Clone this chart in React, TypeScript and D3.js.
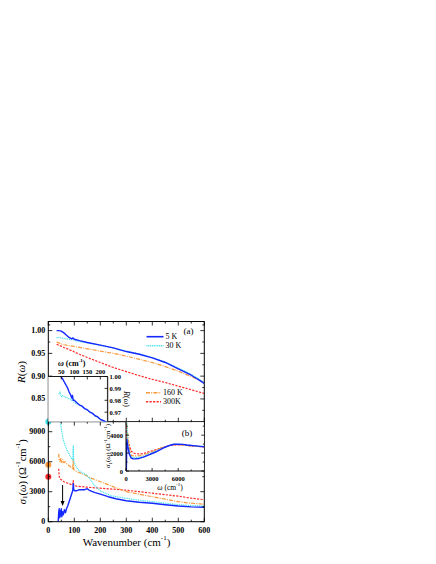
import React, { useEffect, useRef } from 'react';
import * as d3 from 'd3';

// panel (a): reflectivity, main plot
const rFreq = [32, 40, 50, 60, 70, 80, 90, 95, 100, 120, 150, 200, 250, 300, 350, 400, 450, 500, 550, 600];
const r5K = [1.0, 1.0, 0.999, 0.995, 0.99, 0.985, 0.982, 0.984, 0.981, 0.978, 0.974, 0.968, 0.962, 0.954, 0.948, 0.94, 0.93, 0.916, 0.902, 0.884];
const r30K = [0.984, 0.985, 0.984, 0.983, 0.982, 0.981, 0.98, 0.982, 0.978, 0.976, 0.973, 0.968, 0.962, 0.955, 0.949, 0.941, 0.931, 0.918, 0.904, 0.886];
const r160K = [0.975, 0.973, 0.971, 0.969, 0.968, 0.967, 0.966, 0.966, 0.965, 0.963, 0.96, 0.955, 0.95, 0.944, 0.937, 0.93, 0.921, 0.911, 0.899, 0.887];
const r300K = [0.97, 0.968, 0.966, 0.963, 0.961, 0.958, 0.956, 0.955, 0.953, 0.948, 0.941, 0.93, 0.919, 0.91, 0.901, 0.893, 0.886, 0.878, 0.87, 0.862];

// panel (a) inset: low-frequency R
const rInFreq = [40, 45, 50, 55, 60, 65, 70, 75, 80, 85, 90, 93, 96, 100, 110, 120, 130, 140, 150, 160, 170, 180, 190, 200, 210, 220, 228];
const rIn5K = [1.002, 1.001, 0.9995, 0.998, 0.996, 0.994, 0.992, 0.99, 0.987, 0.985, 0.982, 0.984, 0.98, 0.98, 0.978, 0.976, 0.975, 0.973, 0.972, 0.97, 0.969, 0.967, 0.966, 0.964, 0.963, 0.962, 0.961];
const rIn30K = [0.985, 0.987, 0.983, 0.984, 0.983, 0.983, 0.982, 0.982, 0.981, 0.981, 0.98, 0.982, 0.979, 0.978, 0.977, 0.976, 0.975, 0.973, 0.972, 0.97, 0.969, 0.967, 0.966, 0.964, 0.963, 0.962, 0.961];

// panel (b): optical conductivity
const s5Freq = [38, 40, 42, 44, 46, 48, 50, 52, 55, 58, 62, 66, 70, 75, 80, 85, 90, 94, 96, 98, 102, 110, 120, 130, 140, 150, 160, 170, 180, 200, 230, 260, 300, 350, 400, 450, 500, 550, 600];
const s5K = [0, 900, 1300, 400, 1100, 600, 1300, 500, 1000, 700, 1200, 900, 1300, 1600, 2000, 2400, 2800, 3100, 3800, 3200, 3100, 3100, 3200, 3200, 3200, 3300, 3100, 3000, 2900, 2750, 2500, 2300, 2100, 1950, 1840, 1700, 1570, 1480, 1440];
const s30Freq = [45, 48, 52, 56, 60, 65, 70, 75, 80, 85, 90, 94, 96, 98, 105, 115, 130, 145, 160, 175, 200, 240, 300, 350, 400, 450, 500, 550, 600];
const s30K = [10500, 9700, 9000, 8400, 8000, 7600, 7300, 7000, 6800, 6500, 6300, 6200, 7600, 6000, 5600, 5200, 4900, 4700, 4300, 3700, 3100, 2600, 2340, 2150, 2000, 1850, 1700, 1620, 1570];
const s160Freq = [40, 42, 45, 48, 52, 56, 60, 65, 70, 75, 80, 85, 90, 94, 96, 98, 110, 120, 140, 160, 200, 240, 280, 300, 350, 400, 450, 500, 550, 600];
const s160K = [6800, 6200, 6000, 6400, 5900, 6200, 5900, 6000, 5800, 5700, 5600, 5500, 5400, 5300, 6200, 5200, 5000, 4900, 4700, 4400, 4000, 3600, 3200, 3000, 2750, 2500, 2250, 2000, 1850, 1750];
const s300Freq = [40, 42, 45, 50, 55, 60, 70, 80, 90, 94, 96, 98, 110, 130, 150, 200, 250, 300, 350, 400, 450, 500, 550, 600];
const s300K = [5300, 4500, 4300, 4200, 4100, 4000, 3900, 3800, 3700, 3700, 4100, 3600, 3550, 3500, 3450, 3350, 3250, 3150, 3000, 2850, 2700, 2550, 2350, 2200];
// zero-frequency (dc) values
const dcTemps = ['30', '160', '300'];
const dcValues = [10000, 5700, 4500];

// panel (b) inset: wide range
const sInFreq = [40, 100, 200, 400, 600, 800, 1000, 1500, 2000, 2500, 3000, 3500, 4000, 4500, 5000, 5500, 6000, 6500, 7000, 7500, 8000, 8500, 9000];
const sIn5K = [0, 3500, 2750, 1840, 1440, 1370, 1350, 1400, 1550, 1750, 1950, 2150, 2400, 2650, 2850, 2980, 3000, 2970, 2900, 2850, 2800, 2750, 2700];
const sIn30K = [10000, 5800, 3100, 2000, 1570, 1520, 1500, 1530, 1650, 1850, 2050, 2250, 2450, 2680, 2870, 2960, 2990, 2960, 2900, 2850, 2800, 2750, 2700];
const sIn160K = [6800, 5000, 4000, 2500, 1750, 1700, 1680, 1700, 1800, 1950, 2150, 2350, 2550, 2700, 2850, 2920, 2930, 2910, 2860, 2810, 2770, 2730, 2700];
const sIn300K = [5300, 3600, 3350, 2850, 2200, 2050, 1950, 1900, 1950, 2100, 2250, 2400, 2550, 2700, 2850, 2900, 2920, 2900, 2850, 2800, 2770, 2730, 2700];

const temps = ['5', '30', '160', '300'];
const legendA = ['5 K', '30 K'];
const legendB = ['160 K', '300K'];

const look: Record<string, { color: string; dash: string | null; w: number }> = {
  '5': { color: '#1428ff', dash: null, w: 1.4 },
  '30': { color: '#3ee0ea', dash: '1,0.8', w: 1.2 },
  '160': { color: '#f7983a', dash: '4,1.2,1,1.2', w: 1.2 },
  '300': { color: '#ff2b2b', dash: '2.2,1.3', w: 1.2 },
};

const FONT = 'Liberation Serif, Times New Roman, serif';

export default function App() {
  const ref = useRef<SVGSVGElement>(null);

  useEffect(() => {
    const svg = d3.select(ref.current);
    svg.selectAll('*').remove();

    const X0 = 48.3, X1 = 204.3;
    const YA0 = 321.5, YAB = 421.7, YB1 = 521.7;

    const x = d3.scaleLinear().domain([0, 600]).range([X0, X1]);
    const yA = d3.scaleLinear().domain([0.8, 1.02]).range([YAB, YA0]);
    const yB = d3.scaleLinear().domain([0, 10000]).range([YB1, YAB]);
    const xIa = d3.scaleLinear().domain([0, 228]).range([X0, x(228)]);
    const yIa = d3.scaleLinear().domain([0.962, 1.0]).range([YAB, 376.5]);
    const xIb = d3.scaleLinear().domain([0, 9000]).range([126, X1]);
    const yIb = d3.scaleLinear().domain([0, 5500]).range([471, YAB]);

    const defs = svg.append('defs');
    const clip = (id: string, x0: number, y0: number, x1: number, y1: number) =>
      defs.append('clipPath').attr('id', id).append('rect')
        .attr('x', x0).attr('y', y0).attr('width', x1 - x0).attr('height', y1 - y0);
    clip('cA', X0, YA0, X1, YAB);
    clip('cB', X0, YAB, X1, YB1);
    clip('cIa', X0, yIa.range()[1], xIa.range()[1], YAB);
    clip('cIb', 126, YAB, X1, 471);

    const tick = (x1: number, y1: number, x2: number, y2: number, w = 0.8) =>
      svg.append('line').attr('x1', x1).attr('y1', y1).attr('x2', x2).attr('y2', y2)
        .attr('stroke', '#000').attr('stroke-width', w);

    const label = (tx: number, ty: number, txt: string, anchor: string, size = 8, bold = true) =>
      svg.append('text').attr('x', tx).attr('y', ty).attr('text-anchor', anchor)
        .attr('dominant-baseline', 'central').attr('font-family', FONT)
        .attr('font-size', size).attr('font-weight', bold ? 'bold' : 'normal').text(txt);

    const curve = (clipId: string, sx: any, sy: any, xs: number[], ys: number[], t: string) => {
      const line = d3.line<number>().x((_, i) => sx(xs[i])).y((d) => sy(d));
      const s = look[t];
      svg.append('path').attr('clip-path', `url(#${clipId})`)
        .attr('d', line(ys)).attr('fill', 'none').attr('stroke', s.color)
        .attr('stroke-width', s.w).attr('stroke-dasharray', s.dash)
        .attr('stroke-linejoin', 'round');
    };

    // main curves, panel (a)
    const rAll = [r5K, r30K, r160K, r300K];
    [3, 2, 1, 0].forEach((i) => curve('cA', x, yA, rFreq, rAll[i], temps[i]));

    // main curves, panel (b)
    const sF = [s5Freq, s30Freq, s160Freq, s300Freq];
    const sV = [s5K, s30K, s160K, s300K];
    [3, 2, 1, 0].forEach((i) => curve('cB', x, yB, sF[i], sV[i], temps[i]));

    // dc points
    dcValues.forEach((v, i) => {
      svg.append('circle').attr('cx', x(0)).attr('cy', yB(v)).attr('r', 3)
        .attr('fill', look[dcTemps[i]].color);
    });

    // frames
    svg.append('rect').attr('x', X0).attr('y', YA0).attr('width', X1 - X0).attr('height', YB1 - YA0)
      .attr('fill', 'none').attr('stroke', '#000').attr('stroke-width', 1);
    tick(X0, YAB, X1, YAB, 1);

    // x ticks on every horizontal edge
    const xMaj = d3.range(0, 601, 100);
    const xMin = d3.range(50, 600, 100);
    [[YA0, 1], [YAB, -1], [YAB, 1], [YB1, -1]].forEach(([yy, d]) => {
      xMaj.forEach((v) => tick(x(v), yy, x(v), yy + d * 4));
      xMin.forEach((v) => tick(x(v), yy, x(v), yy + d * 2));
    });
    xMaj.forEach((v) => label(x(v), 530.5, String(v), 'middle'));

    // y ticks panel (a)
    const aMaj = [0.85, 0.9, 0.95, 1.0];
    const aMin = [0.825, 0.875, 0.925, 0.975, 1.0125];
    aMaj.forEach((v) => {
      tick(X0, yA(v), X0 + 4, yA(v));
      tick(X1, yA(v), X1 - 4, yA(v));
      label(X0 - 3, yA(v), v.toFixed(2), 'end');
    });
    aMin.forEach((v) => {
      tick(X1, yA(v), X1 - 2, yA(v));
      if (v > 0.95) tick(X0, yA(v), X0 + 2, yA(v));
    });

    // y ticks panel (b)
    const bMaj = [0, 3000, 6000, 9000];
    const bMin = [1500, 4500, 7500];
    bMaj.forEach((v) => {
      tick(X0, yB(v), X0 + 4, yB(v));
      tick(X1, yB(v), X1 - 4, yB(v));
      label(X0 - 3, yB(v), String(v), 'end');
    });
    bMin.forEach((v) => {
      tick(X0, yB(v), X0 + 2, yB(v));
      tick(X1, yB(v), X1 - 2, yB(v));
    });

    // inset (a)
    const iaTop = yIa.range()[1];
    const iaRight = xIa.range()[1];
    svg.append('rect').attr('x', X0).attr('y', iaTop).attr('width', iaRight - X0).attr('height', YAB - iaTop)
      .attr('fill', '#fff');
    curve('cIa', xIa, yIa, rInFreq, rIn30K, '30');
    curve('cIa', xIa, yIa, rInFreq, rIn5K, '5');
    tick(X0, iaTop, iaRight, iaTop, 0.9);
    tick(iaRight, iaTop, iaRight, YAB, 1.3).attr('stroke', '#333');
    [50, 100, 150, 200].forEach((v) => {
      tick(xIa(v), iaTop, xIa(v), iaTop + 3);
      label(xIa(v), iaTop - 5, String(v), 'middle', 6.5);
    });
    [0.97, 0.98, 0.99, 1.0].forEach((v) => {
      tick(iaRight, yIa(v), iaRight - 3, yIa(v));
      label(iaRight + 2, yIa(v), v.toFixed(2), 'start', 6.5);
    });
    const wa = svg.append('text').attr('x', 58).attr('y', 363).attr('dominant-baseline', 'central')
      .attr('font-family', FONT).attr('font-size', 8).attr('font-weight', 'bold');
    wa.append('tspan').attr('font-style', 'italic').text('ω');
    wa.append('tspan').text(' (cm');
    wa.append('tspan').attr('font-size', 5).attr('dy', -3).text('-1');
    wa.append('tspan').attr('dy', 3).text(')');
    const ra = svg.append('text').attr('transform', `translate(127,399) rotate(90)`)
      .attr('text-anchor', 'middle').attr('dominant-baseline', 'central')
      .attr('font-family', FONT).attr('font-size', 8);
    ra.append('tspan').attr('font-style', 'italic').text('R');
    ra.append('tspan').text('(');
    ra.append('tspan').attr('font-style', 'italic').text('ω');
    ra.append('tspan').text(')');

    // inset (b)
    svg.append('rect').attr('x', 126).attr('y', YAB + 0.5).attr('width', X1 - 126 - 0.5).attr('height', 471 - YAB - 0.5)
      .attr('fill', '#fff');
    [3, 2, 1, 0].forEach((i) => curve('cIb', xIb, yIb, sInFreq, [sIn5K, sIn30K, sIn160K, sIn300K][i], temps[i]));
    tick(126, YAB, 126, 471, 1);
    tick(126, 471, X1, 471, 1);
    [0, 2000, 4000].forEach((v) => {
      tick(126, yIb(v), 129, yIb(v));
      tick(X1, yIb(v), X1 - 3, yIb(v));
      label(123, yIb(v), String(v), 'end', 6.5);
    });
    [1000, 3000, 5000].forEach((v) => {
      tick(126, yIb(v), 127.5, yIb(v));
      tick(X1, yIb(v), X1 - 1.5, yIb(v));
    });
    [0, 3000, 6000].forEach((v) => {
      tick(xIb(v), 471, xIb(v), 468);
      label(xIb(v), 478, String(v), 'middle', 6.5);
    });
    [1500, 4500, 7500].forEach((v) => tick(xIb(v), 471, xIb(v), 469.5));
    const wb = svg.append('text').attr('x', 170).attr('y', 486.5).attr('text-anchor', 'middle')
      .attr('dominant-baseline', 'central').attr('font-family', FONT).attr('font-size', 7.5);
    wb.append('tspan').attr('font-style', 'italic').text('ω');
    wb.append('tspan').text(' (cm');
    wb.append('tspan').attr('font-size', 5).attr('dy', -3).text('-1');
    wb.append('tspan').attr('dy', 3).text(')');
    const sb = svg.append('text').attr('transform', `translate(107.5,446) rotate(-90)`)
      .attr('text-anchor', 'middle').attr('dominant-baseline', 'central')
      .attr('font-family', FONT).attr('font-size', 7);
    sb.append('tspan').attr('font-style', 'italic').text('σ');
    sb.append('tspan').attr('font-size', 5).attr('dy', 2).text('1');
    sb.append('tspan').attr('dy', -2).text('(');
    sb.append('tspan').attr('font-style', 'italic').text('ω');
    sb.append('tspan').text(') (Ω');
    sb.append('tspan').attr('font-size', 5).attr('dy', -3).text('-1');
    sb.append('tspan').attr('dy', 3).text('cm');
    sb.append('tspan').attr('font-size', 5).attr('dy', -3).text('-1');
    sb.append('tspan').attr('dy', 3).text(')');

    // arrow at the gap feature
    const ax = x(55);
    tick(ax, 485, ax, 502, 1);
    svg.append('path').attr('d', `M${ax - 2},${501} L${ax + 2},${501} L${ax},${506} Z`).attr('fill', '#000');

    // legends
    const legRow = (t: string, txt: string, x0: number, x1: number, yy: number) => {
      const s = look[t];
      svg.append('line').attr('x1', x0).attr('x2', x1).attr('y1', yy).attr('y2', yy)
        .attr('stroke', s.color).attr('stroke-width', s.w + 0.2).attr('stroke-dasharray', s.dash);
      label(x1 + 2, yy, txt, 'start', 8, false);
    };
    legRow('5', legendA[0], 146.5, 163.5, 336.7);
    legRow('30', legendA[1], 146.5, 163.5, 345.7);
    legRow('160', legendB[0], 146, 161, 392.7);
    legRow('300', legendB[1], 146, 161, 401.7);
    label(188.5, 330.5, '(a)', 'middle', 9, false);
    label(187, 433, '(b)', 'middle', 9, false);

    // axis titles
    const xt = svg.append('text').attr('x', 126.5).attr('y', 541.5).attr('text-anchor', 'middle')
      .attr('dominant-baseline', 'central').attr('font-family', FONT).attr('font-size', 11);
    xt.append('tspan').text('Wavenumber (cm');
    xt.append('tspan').attr('font-size', 7).attr('dy', -4).text('-1');
    xt.append('tspan').attr('dy', 4).text(')');

    const rt = svg.append('text').attr('transform', `translate(21,372) rotate(-90)`)
      .attr('text-anchor', 'middle').attr('dominant-baseline', 'central')
      .attr('font-family', FONT).attr('font-size', 11);
    rt.append('tspan').attr('font-style', 'italic').text('R');
    rt.append('tspan').text('(');
    rt.append('tspan').attr('font-style', 'italic').text('ω');
    rt.append('tspan').text(')');

    const st = svg.append('text').attr('transform', `translate(22,471.7) rotate(-90)`)
      .attr('text-anchor', 'middle').attr('dominant-baseline', 'central')
      .attr('font-family', FONT).attr('font-size', 10.5);
    st.append('tspan').attr('font-style', 'italic').text('σ');
    st.append('tspan').attr('font-size', 7).attr('dy', 3).text('1');
    st.append('tspan').attr('dy', -3).text('(');
    st.append('tspan').attr('font-style', 'italic').text('ω');
    st.append('tspan').text(') (Ω');
    st.append('tspan').attr('font-size', 7).attr('dy', -4).text('-1');
    st.append('tspan').attr('dy', 4).text('cm');
    st.append('tspan').attr('font-size', 7).attr('dy', -4).text('-1');
    st.append('tspan').attr('dy', 4).text(')');
  }, []);

  return (
    <svg ref={ref} width={436} height={564}
      style={{ position: 'absolute', left: 0, top: 0, background: '#fff' }} />
  );
}
